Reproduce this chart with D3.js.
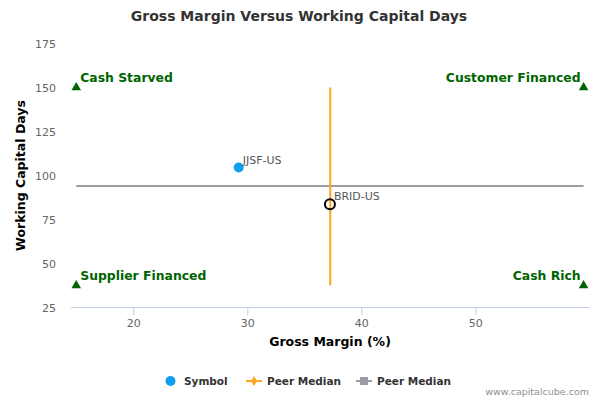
<!DOCTYPE html>
<html>
<head>
<meta charset="utf-8">
<script src="https://cdn.jsdelivr.net/npm/d3@7"></script>
<style>
    body { margin: 0; background: #fff; }
    svg text { font-family: "DejaVu Sans", sans-serif; }
</style>
</head>
<body>
<div id="chart"></div>
<script>
// DATA
const symbols = ["JJSF-US", "BRID-US"];
const grossMargin = [29.25, 37.25];
const capitalDays = [104.5, 83.7];
const symbolStyle = ["filled", "hollow"];

const medianMargin = 37.28;
const medianDays = 94.1;

const quadrantNames = ["Cash Starved", "Customer Financed", "Supplier Financed", "Cash Rich"];
const quadrantX = [15, 59.5, 15, 59.5];
const quadrantY = [150, 150, 37.5, 37.5];

const xTicks = [20, 30, 40, 50];
const yTicks = [25, 50, 75, 100, 125, 150, 175];

// LAYOUT
const width = 600;
const height = 400;
const margin = { top: 43.5, right: 10, bottom: 92.5, left: 71 };

const svg = d3.select('#chart').append('svg')
    .attr('width', width)
    .attr('height', height);

const x = d3.scaleLinear()
    .domain([14.54, 60.06])
    .range([margin.left, width - margin.right]);

const y = d3.scaleLinear()
    .domain([25, 175])
    .range([height - margin.bottom, margin.top]);

// title
svg.append('text')
    .attr('x', 299)
    .attr('y', 21)
    .attr('text-anchor', 'middle')
    .style('font-size', '14px')
    .style('font-weight', 'bold')
    .style('fill', '#333')
    .text('Gross Margin Versus Working Capital Days');

// x axis
const xAxis = svg.append('g')
    .attr('transform', `translate(0,${y(25)})`)
    .call(d3.axisBottom(x).tickValues(xTicks).tickSize(8).tickPadding(4));
xAxis.select('.domain').attr('stroke', '#c0d0e0').attr('d', `M${x.range()[0]},0H${x.range()[1]}`);
xAxis.selectAll('.tick line').attr('stroke', '#c0d0e0');
xAxis.selectAll('.tick text').style('font-size', '11px').style('fill', '#666');

// y axis (labels only)
const yAxis = svg.append('g')
    .attr('transform', `translate(${margin.left},0)`)
    .call(d3.axisLeft(y).tickValues(yTicks).tickSize(0).tickPadding(15));
yAxis.select('.domain').remove();
yAxis.selectAll('.tick text').style('font-size', '11px').style('fill', '#666');

// axis titles
svg.append('text')
    .attr('x', 330)
    .attr('y', 346)
    .attr('text-anchor', 'middle')
    .style('font-size', '12.5px')
    .style('font-weight', 'bold')
    .style('fill', '#000')
    .text('Gross Margin (%)');

svg.append('text')
    .attr('transform', `translate(25,${y(100)}) rotate(-90)`)
    .attr('text-anchor', 'middle')
    .style('font-size', '12.5px')
    .style('font-weight', 'bold')
    .style('fill', '#000')
    .text('Working Capital Days');

// peer median lines
svg.append('line')
    .attr('x1', x(quadrantX[0])).attr('x2', x(quadrantX[1]))
    .attr('y1', y(medianDays)).attr('y2', y(medianDays))
    .attr('stroke', '#9a9ca4')
    .attr('stroke-width', 2);

svg.append('line')
    .attr('x1', x(medianMargin)).attr('x2', x(medianMargin))
    .attr('y1', y(quadrantY[0])).attr('y2', y(quadrantY[2]))
    .attr('stroke', '#ffa51e')
    .attr('stroke-width', 2);

// quadrant markers
const tri = d3.symbol().type(d3.symbolTriangle).size(40);
quadrantNames.forEach(function (name, i) {
    const px = x(quadrantX[i]);
    const py = y(quadrantY[i]);
    svg.append('path')
        .attr('d', tri)
        .attr('transform', `translate(${px},${py})`)
        .attr('fill', '#006400');
    const right = i % 2 === 1;
    svg.append('text')
        .attr('x', right ? px - 3 : px + 4)
        .attr('y', py - 6)
        .attr('text-anchor', right ? 'end' : 'start')
        .style('font-size', '12.4px')
        .style('font-weight', 'bold')
        .style('fill', '#006400')
        .text(name);
});

// symbols
symbols.forEach(function (name, i) {
    const px = x(grossMargin[i]);
    const py = y(capitalDays[i]);
    if (symbolStyle[i] === 'filled') {
        svg.append('circle')
            .attr('cx', px).attr('cy', py).attr('r', 5)
            .attr('fill', '#0f9ef0');
    } else {
        svg.append('circle')
            .attr('cx', px).attr('cy', py).attr('r', 5)
            .attr('fill', 'none')
            .attr('stroke', '#000')
            .attr('stroke-width', 2);
    }
    svg.append('text')
        .attr('x', px + 4)
        .attr('y', py - 4)
        .style('font-size', '11px')
        .style('fill', '#555')
        .text(name);
});

// legend
const legend = svg.append('g').attr('transform', 'translate(0,381)');
legend.append('circle').attr('cx', 170.5).attr('cy', 0).attr('r', 5).attr('fill', '#0f9ef0');
legend.append('text').attr('x', 184).attr('y', 4).text('Symbol');

legend.append('line').attr('x1', 246).attr('x2', 262).attr('y1', 0).attr('y2', 0)
    .attr('stroke', '#ffa51e').attr('stroke-width', 2);
legend.append('path').attr('d', d3.symbol().type(d3.symbolDiamond).size(30))
    .attr('transform', 'translate(254,0)').attr('fill', '#ffa51e');
legend.append('text').attr('x', 267).attr('y', 4).text('Peer Median');

legend.append('line').attr('x1', 356).attr('x2', 372).attr('y1', 0).attr('y2', 0)
    .attr('stroke', '#9a9ca4').attr('stroke-width', 2);
legend.append('rect').attr('x', 360).attr('y', -4).attr('width', 8).attr('height', 8)
    .attr('fill', '#9a9ca4');
legend.append('text').attr('x', 377).attr('y', 4).text('Peer Median');

legend.selectAll('text')
    .style('font-size', '10.5px')
    .style('font-weight', 'bold')
    .style('fill', '#333');

// credit
svg.append('text')
    .attr('x', 589)
    .attr('y', 395)
    .attr('text-anchor', 'end')
    .style('font-size', '9.5px')
    .style('fill', '#909090')
    .text('www.capitalcube.com');
</script>
</body>
</html>
